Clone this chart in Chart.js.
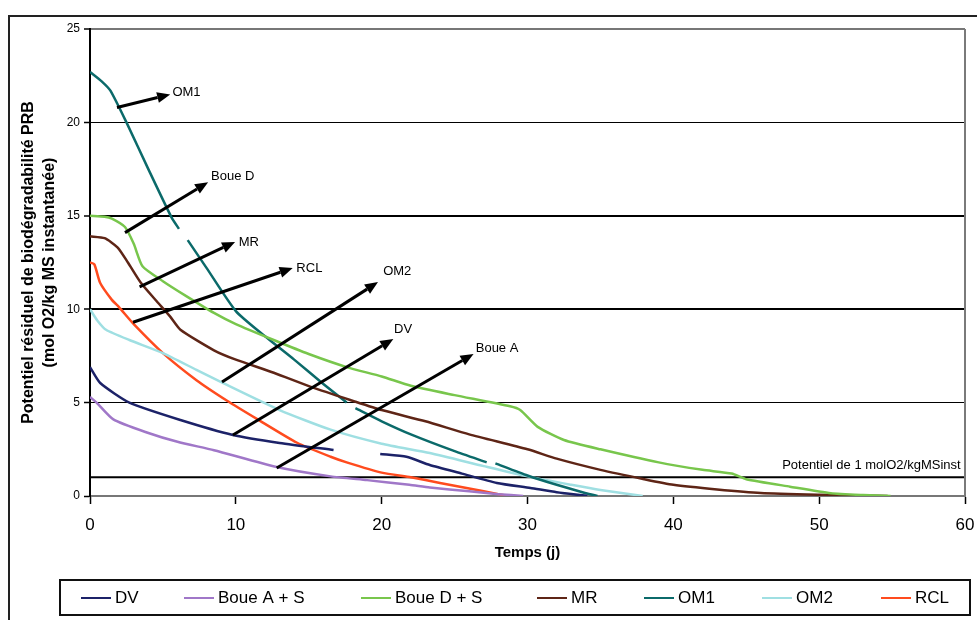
<!DOCTYPE html>
<html lang="fr">
<head>
  <meta charset="UTF-8" />
  <title>Potentiel résiduel de biodégradabilité</title>
  <script src="https://cdn.jsdelivr.net/npm/chart.js"></script>
  <style>
    body { margin: 0; background: #fff; }
    #chart-container { width: 977px; height: 620px; }
  </style>
</head>
<body>
  <div id="chart-container">
    <canvas id="chart"></canvas>
  </div>

  <script>
    // valeurs (temps en jours, PRB en mol O2/kg MS)
    const dvX = [0, 0.7, 2.7, 6.2, 9.8, 13, 16.7, 18.3, 19.9, 21.7, 23.3, 25.5, 27.9, 30.2, 32, 34.1];
    const dvY = [6.9, 6.05, 5.0, 4.07, 3.27, 2.84, 2.46, null, 2.25, 2.1, 1.66, 1.2, 0.7, 0.43, 0.2, 0];

    const boueAX = [0, 0.45, 1.6, 3.9, 6, 8.5, 12.8, 16.5, 19, 21.9, 23.3, 26, 28, 29.7];
    const boueAY = [5.3, 5.0, 4.1, 3.4, 2.9, 2.45, 1.55, 1.05, 0.85, 0.6, 0.45, 0.25, 0.1, 0];

    const boueDX = [0, 1, 1.5, 2.4, 3, 3.6, 5, 6.6, 8.5, 10, 12.6, 15, 17.6, 20, 22, 25, 28.8, 29.5, 30.7, 32.5, 35, 39, 42, 44, 45, 48, 50.8, 53, 54.9];
    const boueDY = [15.0, 14.95, 14.85, 14.4, 13.5, 12.3, 11.5, 10.7, 9.8, 9.2, 8.35, 7.6, 6.9, 6.4, 5.9, 5.4, 4.8, 4.6, 3.7, 3.0, 2.5, 1.8, 1.4, 1.2, 0.9, 0.5, 0.15, 0.05, 0];

    const mrX = [0, 1, 1.9, 2.6, 3.5, 4.6, 5.5, 6.2, 8.5, 10, 12.6, 15.3, 18, 20, 23, 26, 30, 32, 35, 38, 40, 43, 46, 50, 54.7];
    const mrY = [13.9, 13.8, 13.3, 12.5, 11.4, 10.4, 9.6, 8.9, 7.8, 7.3, 6.6, 5.8, 5.1, 4.6, 4.0, 3.3, 2.5, 2.0, 1.4, 0.9, 0.6, 0.35, 0.16, 0.07, 0];

    const om1X = [0, 0.8, 1.4, 2.5, 4, 5.6, 6.1, 6.4, 6.7, 8, 10, 12, 14, 16, 17.6, 17.9, 18.2, 20, 22, 25, 27.2, 27.5, 27.8, 30, 32, 34, 34.8];
    const om1Y = [22.7, 22.2, 21.7, 20.0, 17.5, 14.9, 14.3, null, 13.7, 12.2, 9.9, 8.55, 7.3, 6.0, 5.0, null, 4.7, 4.0, 3.3, 2.4, 1.8, null, 1.75, 1.1, 0.6, 0.15, 0];

    const om2X = [0, 0.5, 1.1, 2.7, 5, 7.3, 9.1, 13, 16.5, 20, 23.3, 27, 30, 33, 35, 37.9];
    const om2Y = [10.0, 9.4, 8.9, 8.35, 7.65, 6.75, 6.05, 4.6, 3.55, 2.8, 2.3, 1.6, 1.05, 0.6, 0.32, 0];

    const rclX = [0, 0.3, 0.7, 1.5, 2, 3, 5, 7.3, 9.4, 11.5, 14.2, 16.5, 17.6, 20, 22, 24, 26, 28, 28.8];
    const rclY = [12.5, 12.4, 11.4, 10.5, 10.1, 9.2, 7.65, 6.2, 5.1, 4.1, 2.85, 2.1, 1.8, 1.25, 1.0, 0.7, 0.4, 0.1, 0];

    const seuilX = [0, 60];
    const seuilY = [1, 1];

    const seriesNames = ['DV', 'Boue A + S', 'Boue D + S', 'MR', 'OM1', 'OM2', 'RCL'];
    const seriesColors = ['#1c2268', '#a077c8', '#78c64c', '#5e2516', '#0b6a6a', '#9fdfe2', '#ff4b1e'];

    // flèches annotées (coordonnées en jours / PRB)
    const arrowLabels = ['OM1', 'Boue D', 'MR', 'RCL', 'OM2', 'DV', 'Boue A'];
    const arrowFromX = [1.85, 2.4, 3.4, 2.95, 9.05, 9.8, 12.8];
    const arrowFromY = [20.8, 14.1, 11.2, 9.3, 6.1, 3.27, 1.5];
    const arrowToX = [5.5, 8.1, 9.95, 13.9, 19.75, 20.8, 26.3];
    const arrowToY = [21.5, 16.8, 13.6, 12.2, 11.45, 8.4, 7.6];
    const labelX = [5.65, 8.3, 10.2, 14.15, 20.1, 20.85, 26.45];
    const labelY = [21.6, 17.1, 13.6, 12.2, 12.0, 8.9, 7.9];

    const seuilLabel = 'Potentiel de 1 molO2/kgMSinst';

    const toPoints = (xs, ys) => xs.map((x, i) => ({ x: x, y: ys[i] }));
    const allX = [dvX, boueAX, boueDX, mrX, om1X, om2X, rclX];
    const allY = [dvY, boueAY, boueDY, mrY, om1Y, om2Y, rclY];

    const datasets = seriesNames.map((name, i) => ({
      label: name,
      data: toPoints(allX[i], allY[i]),
      borderColor: seriesColors[i],
      backgroundColor: seriesColors[i],
      borderWidth: 2.5,
      pointRadius: 0,
      tension: 0.2,
      spanGaps: false
    }));
    datasets.push({
      label: 'seuil',
      data: toPoints(seuilX, seuilY),
      borderColor: '#000',
      borderWidth: 2,
      pointRadius: 0,
      hideLegend: true,
      order: 10
    });

    // position de départ de chaque entrée de légende
    const legendStarts = [81, 184, 361, 537, 644, 762, 881];

    const decor = {
      id: 'decor',
      beforeDraw(chart) {
        const ctx = chart.ctx;
        ctx.save();
        ctx.fillStyle = '#fff';
        ctx.fillRect(0, 0, chart.width, chart.height);
        ctx.restore();
      },
      afterDraw(chart) {
        const ctx = chart.ctx;
        const xs = chart.scales.x, ys = chart.scales.y;
        const area = chart.chartArea;
        ctx.save();

        // cadre extérieur
        ctx.strokeStyle = '#222';
        ctx.lineWidth = 2;
        ctx.strokeRect(9, 16, chart.width + 10, chart.height + 10);

        // bord droit de la zone de tracé
        ctx.strokeStyle = '#7a7a7a';
        ctx.beginPath();
        ctx.moveTo(area.right, area.top);
        ctx.lineTo(area.right, area.bottom);
        ctx.stroke();

        // flèches
        ctx.strokeStyle = '#000';
        ctx.fillStyle = '#000';
        ctx.lineWidth = 3;
        arrowLabels.forEach((lab, i) => {
          const x1 = xs.getPixelForValue(arrowFromX[i]);
          const y1 = ys.getPixelForValue(arrowFromY[i]);
          const x2 = xs.getPixelForValue(arrowToX[i]);
          const y2 = ys.getPixelForValue(arrowToY[i]);
          const a = Math.atan2(y2 - y1, x2 - x1);
          const hl = 13, hw = 5.5;
          const bx = x2 - hl * Math.cos(a), by = y2 - hl * Math.sin(a);
          ctx.beginPath();
          ctx.moveTo(x1, y1);
          ctx.lineTo(bx, by);
          ctx.stroke();
          ctx.beginPath();
          ctx.moveTo(x2, y2);
          ctx.lineTo(bx + hw * Math.sin(a), by - hw * Math.cos(a));
          ctx.lineTo(bx - hw * Math.sin(a), by + hw * Math.cos(a));
          ctx.closePath();
          ctx.fill();

          ctx.font = '13px Arial, "Liberation Sans", sans-serif';
          ctx.textAlign = 'left';
          ctx.textBaseline = 'middle';
          ctx.fillText(lab, xs.getPixelForValue(labelX[i]), ys.getPixelForValue(labelY[i]));
        });

        // libellé du seuil
        ctx.font = '13px Arial, "Liberation Sans", sans-serif';
        ctx.textAlign = 'right';
        ctx.textBaseline = 'middle';
        ctx.fillText(seuilLabel, xs.getPixelForValue(59.7), ys.getPixelForValue(1.66));

        // légende encadrée
        ctx.lineWidth = 2;
        ctx.strokeStyle = '#111';
        ctx.strokeRect(60, 580, 910, 35);
        ctx.font = '17px Arial, "Liberation Sans", sans-serif';
        ctx.textAlign = 'left';
        ctx.textBaseline = 'middle';
        chart.data.datasets.filter(d => !d.hideLegend).forEach((d, i) => {
          const x0 = legendStarts[i];
          ctx.strokeStyle = d.borderColor;
          ctx.lineWidth = 2;
          ctx.beginPath();
          ctx.moveTo(x0, 598);
          ctx.lineTo(x0 + 30, 598);
          ctx.stroke();
          ctx.fillStyle = '#000';
          ctx.fillText(d.label, x0 + 34, 598);
        });
        ctx.restore();
      }
    };

    const ctx = document.getElementById('chart').getContext('2d');
    new Chart(ctx, {
      type: 'line',
      data: { datasets: datasets },
      options: {
        responsive: true,
        maintainAspectRatio: false,
        animation: false,
        layout: { padding: { top: 29, right: 12, bottom: 0, left: 0 } },
        plugins: {
          legend: { display: false },
          tooltip: { enabled: false }
        },
        scales: {
          x: {
            type: 'linear',
            min: 0,
            max: 60,
            afterFit: s => { s.height = 124; s.paddingLeft = 0; s.paddingRight = 0; },
            border: { color: '#777', width: 2 },
            grid: { drawOnChartArea: false, drawTicks: true, tickLength: 8, tickColor: '#000', tickWidth: 1.5 },
            ticks: { stepSize: 10, padding: 11, color: '#000', font: { size: 17, family: 'Arial, "Liberation Sans", sans-serif' } },
            title: {
              display: true,
              text: 'Temps (j)',
              color: '#000',
              font: { size: 15, weight: 'bold', family: 'Arial, "Liberation Sans", sans-serif', lineHeight: 1.2 },
              padding: { top: 0, bottom: 58 }
            }
          },
          y: {
            min: 0,
            max: 25,
            afterFit: s => { s.width = 90; s.paddingTop = 0; s.paddingBottom = 0; },
            border: { color: '#000', width: 2 },
            grid: {
              color: c => (c.tick.value === 25 || c.tick.value === 0) ? '#777' : '#000',
              lineWidth: c => (c.tick.value === 10 || c.tick.value === 15 || c.tick.value === 25) ? 2 : 1,
              drawTicks: true,
              tickLength: 6,
              tickColor: '#000',
              tickWidth: 1.5
            },
            ticks: { stepSize: 5, padding: 4, color: '#000', font: { size: 12, family: 'Arial, "Liberation Sans", sans-serif' } },
            title: {
              display: true,
              text: ['Potentiel résiduel de biodégradabilité PRB', '(mol O2/kg MS instantanée)'],
              color: '#000',
              font: { size: 16, weight: 'bold', family: 'Arial, "Liberation Sans", sans-serif', lineHeight: 1.3 },
              padding: { top: 18, bottom: 0 }
            }
          }
        }
      },
      plugins: [decor]
    });
  </script>
</body>
</html>
